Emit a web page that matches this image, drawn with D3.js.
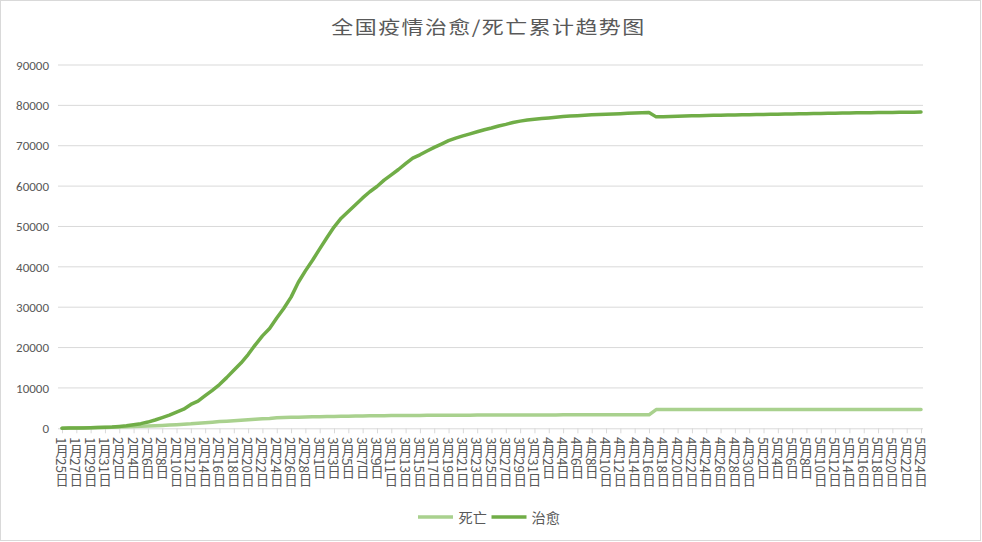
<!DOCTYPE html>
<html><head><meta charset="utf-8">
<script src="https://cdn.jsdelivr.net/npm/d3@7"></script>
<style>
html,body{margin:0;padding:0;background:#fff;}
svg{display:block;}
text{font-family:"Noto Sans CJK SC","Noto Sans",sans-serif;fill:#595959;}
</style></head>
<body>
<svg id="chart" width="982" height="542"></svg>
<script>
const title = "全国疫情治愈/死亡累计趋势图";
const seriesNames = ["死亡", "治愈"];
// daily dates 1月25日 .. 5月24日 (2020)
const monthLengths = [[1, 25, 31], [2, 1, 29], [3, 1, 31], [4, 1, 30], [5, 1, 24]];
const dates = [];
monthLengths.forEach(([m, s, e]) => { for (let d = s; d <= e; d++) dates.push(m + "月" + d + "日"); });

const deaths = [
  41,56,80,106,132,170,213,
  259,304,361,425,490,563,636,722,811,908,1016,1113,1259,1380,1523,1665,1770,1868,2004,2118,2236,2345,2442,2592,2663,2715,2744,2788,2835,
  2870,2912,2943,2981,3012,3042,3070,3097,3119,3136,3158,3169,3176,3189,3199,3213,3226,3237,3245,3248,3255,3261,3270,3277,3281,3287,3292,3295,3300,3304,3305,
  3312,3318,3322,3326,3329,3331,3331,3333,3335,3336,3339,3341,3341,3341,3342,3342,4632,4632,4632,4632,4632,4632,4632,4632,4633,4633,4633,4633,4633,4633,
  4633,4633,4633,4633,4633,4633,4633,4633,4633,4633,4633,4633,4633,4634,4634,4634,4634,4634,4634,4634,4634,4634,4634,4634
];
const cured = [
  38,51,60,103,124,171,243,
  328,475,632,892,1153,1540,2050,2649,3281,3996,4740,5911,6723,8096,9419,10844,12552,14376,16155,18264,20659,22888,24734,27323,29745,32495,36117,39002,41625,
  44462,47204,49856,52045,53726,55404,57065,58600,59897,61475,62793,64111,65541,66911,67749,68679,69601,70420,71250,71900,72450,72950,73450,73950,74400,74900,75300,75750,76100,76350,76550,
  76720,76880,77050,77220,77360,77450,77560,77650,77740,77810,77870,77950,78020,78100,78170,78230,77150,77200,77250,77300,77350,77400,77450,77500,77540,77580,77610,77640,77670,77700,
  77730,77760,77790,77820,77850,77880,77910,77940,77970,78000,78030,78060,78090,78120,78150,78180,78200,78220,78240,78260,78280,78300,78320,78340,78360,78380
];
const yTicks = [0,10000,20000,30000,40000,50000,60000,70000,80000,90000];
const colors = ["#A9D18E", "#70AD47"];

const svg = d3.select("#chart");
svg.append("rect").attr("x",0.5).attr("y",0.5).attr("width",980).attr("height",540)
  .attr("fill","#fff").attr("stroke","#D9D9D9");

const x = d3.scalePoint().domain(dates).range([62, 921]);
const y = d3.scaleLinear().domain([0, 90000]).range([428.3, 65]);

// grid
svg.append("g").selectAll("line").data(yTicks.filter(t=>t>0)).join("line")
  .attr("x1", 58).attr("x2", 923).attr("y1", d=>y(d)).attr("y2", d=>y(d))
  .attr("stroke", "#D9D9D9").attr("stroke-width", 1);

// y axis labels
const yAxis = d3.axisLeft(y).tickValues(yTicks).tickSize(0).tickPadding(0).tickFormat(d3.format("d"));
const gy = svg.append("g").attr("transform","translate(49,0)").call(yAxis);
gy.select(".domain").remove();
gy.selectAll("text").attr("font-size", 13).attr("fill","#595959")
  .style("font-family","Calibri,Carlito,'Liberation Sans','Noto Sans',sans-serif");

// x axis
const tickDates = dates.filter((d,i)=>i%2===0);
const xAxis = d3.axisBottom(x).tickValues(tickDates).tickSize(5).tickSizeOuter(0).tickFormat("");
const gx = svg.append("g").attr("transform","translate(0,428.3)").call(xAxis);
gx.select(".domain").attr("stroke","#D9D9D9").attr("d","M58,0.5H923");
gx.selectAll(".tick line").attr("stroke","#D9D9D9");

svg.append("g").selectAll("text").data(tickDates).join("text")
  .attr("x", d=>x(d)).attr("y", 437)
  .attr("writing-mode","tb")
  .style("writing-mode","vertical-rl")
  .attr("font-size", 13.5)
  .attr("fill","#595959")
  .text(d=>d);

// lines
const line = d3.line().x((d,i)=>x(dates[i])).y(d=>y(d));
[deaths, cured].forEach((s, k) => {
  svg.append("path").datum(s).attr("d", line).attr("fill","none")
    .attr("stroke", colors[k]).attr("stroke-width", 3.5)
    .attr("stroke-linejoin","round").attr("stroke-linecap","round");
});

// title
svg.append("text").attr("x", 0).attr("y", 0)
  .attr("transform","translate(488.5,34) scale(1.22,1)")
  .attr("text-anchor","middle").attr("font-size", 18).attr("letter-spacing", 1.2)
  .attr("fill","#595959").text(title);

// legend
const legendItems = [{n: seriesNames[0], x1: 418, tx: 458.5}, {n: seriesNames[1], x1: 491.5, tx: 531.5}];
legendItems.forEach((it, k) => {
  svg.append("line").attr("x1", it.x1).attr("x2", it.x1 + 35).attr("y1", 517).attr("y2", 517)
    .attr("stroke", colors[k]).attr("stroke-width", 3.5);
  svg.append("text").attr("x", 0).attr("y", 0)
    .attr("transform", `translate(${it.tx},522.5) scale(1.05,1)`)
    .attr("font-size", 13.5).attr("fill","#595959").text(it.n);
});
</script>
</body></html>
